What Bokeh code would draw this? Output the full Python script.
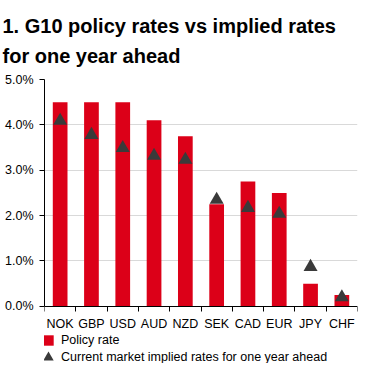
from bokeh.plotting import figure
from bokeh.models import (Range1d, FixedTicker, PrintfTickFormatter, Legend, LegendItem,
                          ColumnDataSource, LinearAxis)
from bokeh.embed import file_html
from bokeh.resources import INLINE

categories = ["NOK", "GBP", "USD", "AUD", "NZD", "SEK", "CAD", "EUR", "JPY", "CHF"]
policy_rate = [4.5, 4.5, 4.5, 4.1, 3.75, 2.25, 2.75, 2.5, 0.5, 0.25]
implied_rate = [4.09, 3.78, 3.49, 3.32, 3.23, 2.35, 2.17, 2.04, 0.87, 0.20]
y_ticks = [0, 1, 2, 3, 4, 5]

RED = "#dc0018"
DARK = "#3a3a3a"
FONT = "Liberation Sans"

xpos = [i + 0.5 for i in range(len(categories))]
src = ColumnDataSource(dict(x=xpos, cat=categories, policy=policy_rate, implied=implied_rate))

p = figure(width=359, height=363, output_backend="svg", toolbar_location=None,
           x_range=Range1d(0, len(categories)), y_range=Range1d(-1.26, 5),
           x_axis_type=None,
           min_border_left=44, min_border_right=2, min_border_top=0, min_border_bottom=0)
p.outline_line_color = None
p.background_fill_color = "white"
p.border_fill_color = "white"

p.title.text = "1. G10 policy rates vs implied rates\nfor one year ahead"
p.title.text_font = FONT
p.title.text_font_size = "20px"
p.title.text_font_style = "bold"
p.title.text_color = "#000000"
p.title.text_line_height = 1.35
p.title.offset = -42
p.title.standoff = 25

p.xgrid.grid_line_color = None
p.ygrid.grid_line_color = "#d9d9d9"
p.ygrid.ticker = FixedTicker(ticks=y_ticks)

bars = p.vbar(x="x", top="policy", width=0.47, source=src, fill_color=RED, line_color=None)
tri = p.scatter(x="x", y="implied", source=src, marker="triangle", size=14,
                fill_color=DARK, line_color=None)
sq = p.scatter(x="x", y="policy", source=src, marker="square", size=10,
               fill_color=RED, line_color=None, visible=False)

# x axis fixed at y = 0
xa = LinearAxis(fixed_location=0)
xa.ticker = FixedTicker(ticks=xpos, minor_ticks=list(range(len(categories) + 1)))
xa.major_label_overrides = {x: c for x, c in zip(xpos, categories)}
xa.major_tick_line_color = None
xa.minor_tick_in = 0
xa.minor_tick_out = 5
xa.minor_tick_line_color = "black"
xa.axis_line_color = "black"
xa.major_label_standoff = 5
xa.major_label_text_font = FONT
xa.major_label_text_font_size = "12.5px"
xa.major_label_text_color = "black"
p.add_layout(xa, "below")

ya = p.yaxis[0]
ya.ticker = FixedTicker(ticks=y_ticks)
ya.bounds = (0, 5)
ya.formatter = PrintfTickFormatter(format="%.1f%%")
ya.major_tick_in = 0
ya.major_tick_out = 5
ya.minor_tick_line_color = None
ya.axis_line_color = "black"
ya.major_tick_line_color = "black"
ya.major_label_standoff = 6
ya.major_label_text_font = FONT
ya.major_label_text_font_size = "12.5px"
ya.major_label_text_color = "black"

common = dict(orientation="vertical", glyph_width=26, glyph_height=26, label_standoff=-5,
              padding=0, margin=0, border_line_color=None, background_fill_alpha=0,
              label_text_font=FONT, label_text_font_size="12.5px", label_text_color="black",
              label_height=12)
legend1 = Legend(items=[LegendItem(label="Policy rate", renderers=[sq])],
                 location=(-9, 10), **common)
legend2 = Legend(items=[LegendItem(label="Current market implied rates for one year ahead",
                                   renderers=[tri])],
                 location=(-9, -7), **common)
p.add_layout(legend1, "center")
p.add_layout(legend2, "center")

open("out.html", "w").write(file_html(p, INLINE))
